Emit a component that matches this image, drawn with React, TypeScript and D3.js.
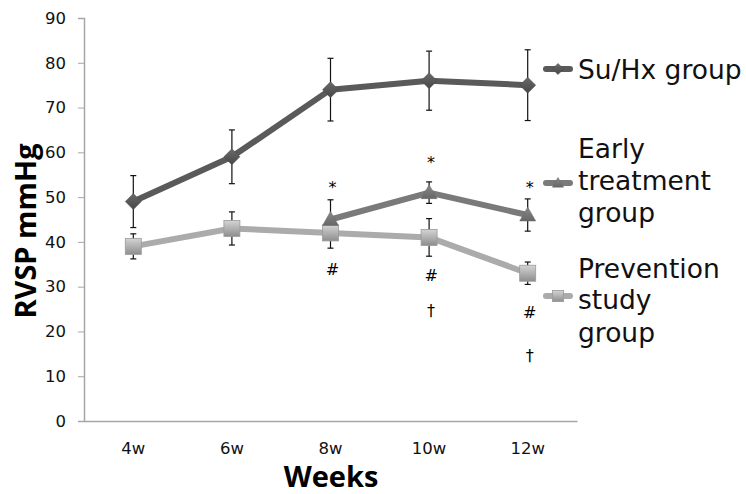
import React, { useEffect, useRef } from 'react';
import * as d3 from 'd3';

const weeks = ['4w', '6w', '8w', '10w', '12w'];
const suhxMean = [49, 59, 74, 76, 75];
const suhxErr = [5.8, 6, 7, 6.6, 7.9];
const earlyMean = [null, null, 45, 51, 46];
const earlyErr = [null, null, 4.4, 2.4, 3.6];
const preventionMean = [39, 43, 42, 41, 33];
const preventionErr = [2.8, 3.7, 3.4, 4.2, 2.5];
const yTicks = [0, 10, 20, 30, 40, 50, 60, 70, 80, 90];

// significance marks, y = value where the glyph sits
const marks = [
  { week: '8w', y: 53.1, s: '*' },
  { week: '10w', y: 58.6, s: '*' },
  { week: '12w', y: 53.1, s: '*' },
  { week: '8w', y: 33.9, s: '#' },
  { week: '10w', y: 32.6, s: '#' },
  { week: '12w', y: 24.2, s: '#' },
  { week: '10w', y: 24.8, s: '†' },
  { week: '12w', y: 14.7, s: '†' },
];

const App = () => {
  const ref = useRef<SVGSVGElement>(null);

  useEffect(() => {
    const svg = d3.select(ref.current);
    svg.selectAll('*').remove();

    const x = d3.scaleBand().domain(weeks).range([84, 577]);
    const y = d3.scaleLinear().domain([0, 90]).range([421, 18]);
    const cx = (w: string) => (x(w) as number) + x.bandwidth() / 2;

    const defs = svg.append('defs');
    const sq = defs.append('linearGradient').attr('id', 'sq').attr('x1', 0).attr('y1', 0).attr('x2', 0).attr('y2', 1);
    sq.append('stop').attr('offset', '0%').attr('stop-color', '#d4d4d4');
    sq.append('stop').attr('offset', '100%').attr('stop-color', '#8e8e8e');
    const dm = defs.append('linearGradient').attr('id', 'dm').attr('x1', 0).attr('y1', 0).attr('x2', 0).attr('y2', 1);
    dm.append('stop').attr('offset', '0%').attr('stop-color', '#6a6a6a');
    dm.append('stop').attr('offset', '100%').attr('stop-color', '#474747');
    const tr = defs.append('linearGradient').attr('id', 'tr').attr('x1', 0).attr('y1', 0).attr('x2', 0).attr('y2', 1);
    tr.append('stop').attr('offset', '0%').attr('stop-color', '#8a8a8a');
    tr.append('stop').attr('offset', '100%').attr('stop-color', '#666');

    // axes
    const yAxis = svg.append('g')
      .attr('transform', 'translate(84,0)')
      .call(d3.axisLeft(y).tickValues(yTicks).tickSize(6).tickPadding(12));
    yAxis.select('.domain').attr('stroke', '#a6a6a6').attr('stroke-width', 1.5);
    yAxis.selectAll('.tick line').attr('stroke', '#a6a6a6');
    yAxis.selectAll('.tick text')
      .style('font-family', 'DejaVu Sans').style('font-size', '16.5px').attr('fill', '#111');

    const xAxis = svg.append('g')
      .attr('transform', 'translate(0,421)')
      .call(d3.axisBottom(x).tickSize(0).tickPadding(21));
    xAxis.select('.domain').attr('stroke', '#a6a6a6').attr('stroke-width', 1.5);
    xAxis.selectAll('.tick text')
      .style('font-family', 'DejaVu Sans').style('font-size', '16.5px').attr('fill', '#111');

    svg.append('text')
      .attr('x', 331).attr('y', 487)
      .attr('text-anchor', 'middle')
      .style('font-family', 'Open Sans').style('font-weight', 'bold').style('font-size', '29px')
      .text('Weeks');

    svg.append('text')
      .attr('transform', 'translate(36,231) rotate(-90)')
      .attr('text-anchor', 'middle')
      .style('font-family', 'Open Sans').style('font-weight', 'bold').style('font-size', '29px')
      .text('RVSP mmHg');

    const series = [
      { name: 'suhx', mean: suhxMean, err: suhxErr, color: '#5a5a5a', shape: 'diamond' },
      { name: 'prev', mean: preventionMean, err: preventionErr, color: '#ababab', shape: 'square' },
      { name: 'early', mean: earlyMean, err: earlyErr, color: '#7a7a7a', shape: 'triangle' },
    ];

    const line = d3.line<[string, number | null]>()
      .defined(d => d[1] != null)
      .x(d => cx(d[0]))
      .y(d => y(d[1] as number));

    series.forEach(s => {
      const pts: [string, number | null][] = weeks.map((w, i) => [w, s.mean[i]]);
      svg.append('path')
        .datum(pts)
        .attr('d', line)
        .attr('fill', 'none')
        .attr('stroke', s.color)
        .attr('stroke-width', 6)
        .attr('stroke-linejoin', 'round');
    });

    const drawMarker = (g: any, shape: string, px: number, py: number, k = 1) => {
      if (shape === 'diamond') {
        const r = 8 * k;
        g.append('path')
          .attr('d', `M${px},${py - r}L${px + r},${py}L${px},${py + r}L${px - r},${py}Z`)
          .attr('fill', 'url(#dm)').attr('stroke', '#4a4a4a').attr('stroke-width', 0.5);
      } else if (shape === 'square') {
        const r = 8 * k;
        g.append('rect')
          .attr('x', px - r).attr('y', py - r).attr('width', 2 * r).attr('height', 2 * r)
          .attr('fill', 'url(#sq)').attr('stroke', '#9a9a9a').attr('stroke-width', 0.8);
      } else {
        const r = 8 * k;
        g.append('path')
          .attr('d', `M${px},${py - r}L${px + r},${py + r * 0.75}L${px - r},${py + r * 0.75}Z`)
          .attr('fill', 'url(#tr)').attr('stroke', '#6a6a6a').attr('stroke-width', 0.5);
      }
    };

    series.forEach(s => {
      const g = svg.append('g');
      weeks.forEach((w, i) => {
        const m = s.mean[i];
        const e = s.err[i];
        if (m == null || e == null) return;
        const px = cx(w);
        g.append('line')
          .attr('x1', px).attr('x2', px).attr('y1', y(m - e)).attr('y2', y(m + e))
          .attr('stroke', '#111').attr('stroke-width', 1.2);
        [m - e, m + e].forEach(v => {
          g.append('line')
            .attr('x1', px - 3).attr('x2', px + 3).attr('y1', y(v)).attr('y2', y(v))
            .attr('stroke', '#111').attr('stroke-width', 1.2);
        });
      });
    });

    series.forEach(s => {
      const g = svg.append('g');
      weeks.forEach((w, i) => {
        const m = s.mean[i];
        if (m == null) return;
        drawMarker(g, s.shape, cx(w), y(m));
      });
    });

    svg.append('g').selectAll('text')
      .data(marks)
      .enter()
      .append('text')
      .attr('x', d => cx(d.week) + 2)
      .attr('y', d => y(d.y))
      .attr('dy', d => (d.s === '*' ? '0.6em' : '0.36em'))
      .attr('text-anchor', 'middle')
      .attr('fill', '#000')
      .style('font-family', 'DejaVu Sans')
      .style('font-size', '16px')
      .text(d => d.s);

    // legend
    const legend = [
      { lines: ['Su/Hx group'], shape: 'diamond', color: '#5a5a5a', my: 69, ty: [69] },
      { lines: ['Early', 'treatment', 'group'], shape: 'triangle', color: '#7a7a7a', my: 183, ty: [148, 180, 212] },
      { lines: ['Prevention', 'study', 'group'], shape: 'square', color: '#ababab', my: 296, ty: [268, 299, 332] },
    ];
    legend.forEach(l => {
      const g = svg.append('g');
      g.append('line')
        .attr('x1', 546).attr('x2', 570).attr('y1', l.my).attr('y2', l.my)
        .attr('stroke', l.color).attr('stroke-width', 6).attr('stroke-linecap', 'round');
      drawMarker(g, l.shape, 558, l.my, 0.7);
      l.lines.forEach((t, i) => {
        g.append('text')
          .attr('x', 578).attr('y', l.ty[i])
          .attr('dy', '0.36em')
          .style('font-family', 'DejaVu Sans').style('font-size', '26.5px')
          .attr('fill', '#111')
          .text(t);
      });
    });
  }, []);

  return (
    <svg ref={ref} width={746} height={494} style={{ position: 'absolute', left: 0, top: 0, background: '#fff' }} />
  );
};

export default App;
